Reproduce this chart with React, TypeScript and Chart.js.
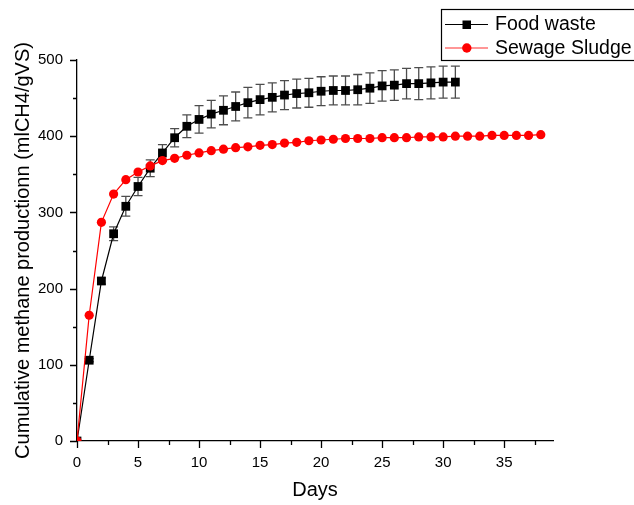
import React, { useEffect, useRef } from 'react';
import { Chart, registerables } from 'chart.js';

Chart.register(...registerables);

const FONT = "'Liberation Sans', Arial, sans-serif";

const foodLabel = 'Food waste';
const sludgeLabel = 'Sewage Sludge';

const foodDays = [0, 1, 2, 3, 4, 5, 6, 7, 8, 9, 10, 11, 12, 13, 14, 15, 16, 17, 18, 19, 20, 21, 22, 23, 24, 25, 26, 27, 28, 29, 30, 31];
const foodValues = [0, 106, 210, 272, 308, 334, 358, 378, 398, 413, 422, 429, 434, 439, 444, 448, 451, 454, 456, 457, 459, 460, 460, 461, 463, 466, 467, 469, 469, 470, 471, 471];
const foodErrors = [0, 2, 4, 9, 13, 12, 11, 11, 12, 15, 18, 18, 19, 19, 20, 20, 19, 19, 19, 19, 19, 19, 19, 20, 20, 20, 20, 20, 21, 21, 21, 21];

const sludgeDays = [0, 1, 2, 3, 4, 5, 6, 7, 8, 9, 10, 11, 12, 13, 14, 15, 16, 17, 18, 19, 20, 21, 22, 23, 24, 25, 26, 27, 28, 29, 30, 31, 32, 33, 34, 35, 36, 37, 38];
const sludgeValues = [0, 165, 287, 324, 343, 353, 361, 368, 371, 375, 378, 381, 383, 385, 386, 388, 389, 391, 392, 394, 395, 396, 397, 397, 397, 398, 398, 398, 399, 399, 399, 400, 400, 400, 401, 401, 401, 401, 402];

const xMajorTicks = [0, 5, 10, 15, 20, 25, 30, 35];
const xMinorTicks = [2.5, 7.5, 12.5, 17.5, 22.5, 27.5, 32.5, 37.5];
const yMajorTicks = [0, 100, 200, 300, 400, 500];
const yMinorTicks = [50, 150, 250, 350, 450];

const xTitle = 'Days';
const yTitle = 'Cumulative methane productionn (mlCH4/gVS)';

const errorBarPlugin = {
  id: 'errorBars',
  beforeDatasetsDraw(chart: any) {
    const { ctx, chartArea, scales } = chart;
    const xs = scales.x;
    const ys = scales.y;
    ctx.save();
    ctx.beginPath();
    ctx.rect(chartArea.left, chartArea.top, chartArea.right - chartArea.left, chartArea.bottom - chartArea.top);
    ctx.clip();
    ctx.strokeStyle = '#4d4d4d';
    ctx.lineWidth = 1.3;
    const cap = 4.5;
    foodDays.forEach((d, i) => {
      const e = foodErrors[i];
      if (!e) return;
      const px = xs.getPixelForValue(d);
      const top = ys.getPixelForValue(foodValues[i] + e);
      const bot = ys.getPixelForValue(foodValues[i] - e);
      ctx.beginPath();
      ctx.moveTo(px, top);
      ctx.lineTo(px, bot);
      ctx.moveTo(px - cap, top);
      ctx.lineTo(px + cap, top);
      ctx.moveTo(px - cap, bot);
      ctx.lineTo(px + cap, bot);
      ctx.stroke();
    });
    ctx.restore();
  },
};

const tickPlugin = {
  id: 'axisTicks',
  afterDraw(chart: any) {
    const { ctx, chartArea, scales } = chart;
    const xs = scales.x;
    const ys = scales.y;
    ctx.save();
    ctx.strokeStyle = '#000';
    ctx.lineWidth = 1.3;
    ctx.beginPath();
    const bottom = chartArea.bottom;
    const left = chartArea.left;
    xMajorTicks.forEach((v) => {
      const p = Math.round(xs.getPixelForValue(v)) + 0.5;
      ctx.moveTo(p, bottom);
      ctx.lineTo(p, bottom + 7);
    });
    xMinorTicks.forEach((v) => {
      const p = Math.round(xs.getPixelForValue(v)) + 0.5;
      ctx.moveTo(p, bottom);
      ctx.lineTo(p, bottom + 4);
    });
    yMajorTicks.forEach((v) => {
      const p = Math.round(ys.getPixelForValue(v)) + 0.5;
      ctx.moveTo(left, p);
      ctx.lineTo(left - 7, p);
    });
    yMinorTicks.forEach((v) => {
      const p = Math.round(ys.getPixelForValue(v)) + 0.5;
      ctx.moveTo(left, p);
      ctx.lineTo(left - 4, p);
    });
    ctx.stroke();

    // legend
    const ds = chart.data.datasets;
    const food = ds.find((d: any) => d.label === foodLabel);
    const sludge = ds.find((d: any) => d.label === sludgeLabel);
    ctx.lineWidth = 1.2;
    ctx.strokeStyle = '#000';
    ctx.strokeRect(441.5, 9.5, 260, 51);
    ctx.font = `19.5px ${FONT}`;
    ctx.textBaseline = 'alphabetic';
    ctx.textAlign = 'left';
    // entry 1
    ctx.beginPath();
    ctx.strokeStyle = food.borderColor;
    ctx.lineWidth = 1.2;
    ctx.moveTo(445, 24.5);
    ctx.lineTo(488, 24.5);
    ctx.stroke();
    ctx.fillStyle = food.pointBackgroundColor;
    ctx.fillRect(462.5, 20.5, 8.5, 8.5);
    ctx.fillStyle = '#000';
    ctx.fillText(food.label, 495, 30);
    // entry 2
    ctx.beginPath();
    ctx.strokeStyle = 'rgba(255,0,0,0.55)';
    ctx.lineWidth = 1.6;
    ctx.moveTo(445, 48);
    ctx.lineTo(488, 48);
    ctx.stroke();
    ctx.beginPath();
    ctx.fillStyle = sludge.pointBackgroundColor;
    ctx.arc(466.8, 48, 4.7, 0, Math.PI * 2);
    ctx.fill();
    ctx.fillStyle = '#000';
    ctx.fillText(sludge.label, 495, 54);
    ctx.restore();
  },
};

export default function App() {
  const ref = useRef<HTMLCanvasElement | null>(null);

  useEffect(() => {
    if (!ref.current) return;
    const chart = new Chart(ref.current, {
      type: 'line',
      data: {
        datasets: [
          {
            label: sludgeLabel,
            data: sludgeDays.map((d, i) => ({ x: d, y: sludgeValues[i] })),
            borderColor: '#ff0000',
            backgroundColor: '#ff0000',
            pointBackgroundColor: '#ff0000',
            pointBorderColor: '#ff0000',
            borderWidth: 1.2,
            pointStyle: 'circle',
            pointRadius: 4.6,
            pointBorderWidth: 0,
            tension: 0,
            clip: 0,
            order: 0,
          },
          {
            label: foodLabel,
            data: foodDays.map((d, i) => ({ x: d, y: foodValues[i] })),
            borderColor: '#000000',
            backgroundColor: '#000000',
            pointBackgroundColor: '#000000',
            pointBorderColor: '#000000',
            borderWidth: 1.2,
            pointStyle: 'rect',
            pointRadius: 6.2,
            pointBorderWidth: 0,
            tension: 0,
            clip: 0,
            order: 1,
          },
        ],
      },
      options: {
        animation: false,
        responsive: false,
        maintainAspectRatio: false,
        layout: { padding: { left: 0, top: 60, right: 81, bottom: 0 } },
        plugins: {
          legend: { display: false },
          tooltip: { enabled: false },
          title: { display: false },
        },
        scales: {
          x: {
            type: 'linear',
            min: 0,
            max: 39,
            afterFit: (scale: any) => {
              scale.height = 64;
            },
            grid: { display: false, drawTicks: false },
            border: { display: true, color: '#000', width: 1.3 },
            ticks: {
              stepSize: 5,
              includeBounds: false,
              autoSkip: false,
              maxRotation: 0,
              padding: 13,
              color: '#000',
              font: { family: FONT, size: 15 },
            },
            title: {
              display: true,
              text: xTitle,
              color: '#000',
              font: { family: FONT, size: 20 },
              padding: { top: 0, bottom: 3 },
            },
          },
          y: {
            type: 'linear',
            min: 0,
            max: 500,
            afterFit: (scale: any) => {
              scale.width = 77;
            },
            grid: { display: false, drawTicks: false },
            border: { display: true, color: '#000', width: 1.3 },
            ticks: {
              stepSize: 100,
              includeBounds: false,
              autoSkip: false,
              padding: 14,
              color: '#000',
              font: { family: FONT, size: 15 },
            },
            title: {
              display: true,
              text: yTitle,
              color: '#000',
              font: { family: FONT, size: 20 },
              padding: { top: 11, bottom: 0 },
            },
          },
        },
      },
      plugins: [errorBarPlugin, tickPlugin],
    });
    return () => chart.destroy();
  }, []);

  return (
    <div style={{ position: 'fixed', left: 0, top: 0, width: 634, height: 505, background: '#fff' }}>
      <canvas ref={ref} width={634} height={505} style={{ width: 634, height: 505, display: 'block' }} />
    </div>
  );
}
